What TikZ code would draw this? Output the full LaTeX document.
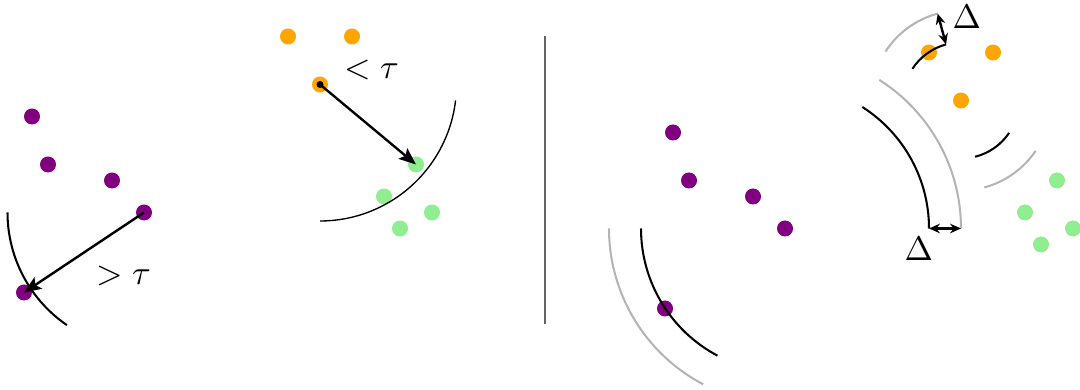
\documentclass[tikz,border=0pt]{standalone}
\usetikzlibrary{arrows.meta,calc}
\definecolor{dpurple}{RGB}{128,0,128}
\definecolor{dorange}{RGB}{255,165,0}
\definecolor{lgreen}{RGB}{144,238,144}
\definecolor{lgray}{RGB}{180,180,180}
\definecolor{dgray}{RGB}{100,100,100}
\begin{document}
\begin{tikzpicture}[x=0.0103125cm,y=0.0103125cm,
  dot/.style={circle,inner sep=0pt,minimum size=0.165cm},
  pd/.style={dot,fill=dpurple},
  od/.style={dot,fill=dorange},
  gd/.style={dot,fill=lgreen},
  cdot/.style={circle,inner sep=0pt,minimum size=0.072cm,fill=black},
  blk/.style={black,line width=0.6pt},
  thinblk/.style={black,line width=0.4pt},
  gry/.style={lgray,line width=0.6pt},
  harrow/.style={line width=0.7pt,-{Stealth[length=5pt,width=4pt,inset=1pt]}},
  darrow/.style={line width=0.7pt,{Stealth[length=3.2pt,width=2.8pt]}-{Stealth[length=3.2pt,width=2.8pt]}},
  lab/.style={inner sep=0pt}]
\useasboundingbox (0,0) rectangle (1080,390);
% ---------- left panel ----------
\node[pd] (p1) at (32,273.5) {};
\node[pd] (p2) at (48,225.5) {};
\node[pd] (p3) at (112,209.5) {};
\node[pd] (p4) at (144,177.5) {};
\node[pd] (p5) at (24,97.5) {};
\node[od] (o1) at (288,353.5) {};
\node[od] (o2) at (352,353.5) {};
\node[od] (o3) at (320,305.5) {};
\node[gd] (g1) at (416,225.5) {};
\node[gd] (g2) at (384,193.5) {};
\node[gd] (g3) at (432,177.5) {};
\node[gd] (g4) at (400,161.5) {};
\node[cdot] (o3c) at (o3) {};
% arcs
\draw[blk] (p4.center) ++(180:136.5) arc[start angle=180,end angle=235.6,radius=136.5];
\draw[thinblk] (o3.center) ++(-90:136.5) arc[start angle=-90,end angle=-6.7,radius=136.5];
% arrows
\draw[harrow] (p4.center) -- (p5.center);
\draw[harrow] (o3c.center) -- (g1.center);
\node[lab] (gt) at (123.5,114) {$>\tau$};
\node[lab] (lt) at (371.5,320) {$<\tau$};
% ---------- divider ----------
\coordinate (d1) at (545,354);
\coordinate (d2) at (545,66);
\draw[dgray,line width=0.6pt] (d1) -- (d2);
% ---------- right panel ----------
\node[pd] (q1) at (673,257.5) {};
\node[pd] (q2) at (689,209.5) {};
\node[pd] (q3) at (753,193.5) {};
\node[pd] (q4) at (785,161.5) {};
\node[pd] (q5) at (665,81.5) {};
\node[od] (r1) at (929,337.5) {};
\node[od] (r2) at (993,337.5) {};
\node[od] (r3) at (961,289.5) {};
\node[gd] (s1) at (1057,209.5) {};
\node[gd] (s2) at (1025,177.5) {};
\node[gd] (s3) at (1073,161.5) {};
\node[gd] (s4) at (1041,145.5) {};
% big arcs around q4
\draw[blk] (q4.center) ++(180:144) arc[start angle=180,end angle=242,radius=144];
\draw[gry] (q4.center) ++(180:176) arc[start angle=180,end angle=242.3,radius=176];
\draw[blk] (q4.center) ++(57.5:144) arc[start angle=57.5,end angle=0,radius=144];
\draw[gry] (q4.center) ++(57.6:176) arc[start angle=57.6,end angle=0,radius=176];
\coordinate (a1) at ($(q4.center)+(144,0)$);
\coordinate (a2) at ($(q4.center)+(176,0)$);
% small arcs around r3
\draw[blk] (r3.center) ++(147:58) arc[start angle=147,end angle=105,radius=58];
\draw[gry] (r3.center) ++(147:90) arc[start angle=147,end angle=105,radius=90];
\draw[blk] (r3.center) ++(-76:58) arc[start angle=-76,end angle=-34,radius=58];
\draw[gry] (r3.center) ++(-75:90) arc[start angle=-75,end angle=-34,radius=90];
\coordinate (b1) at ($(r3.center)+(105:58)$);
\coordinate (b2) at ($(r3.center)+(105:90)$);
\draw[darrow] (a1) -- (a2);
\draw[darrow] (b1) -- (b2);
\node[lab] (dl) at (918.7,141.3) {$\Delta$};
\node[lab] (du) at (966.7,373.3) {$\Delta$};
\end{tikzpicture}
\end{document}
